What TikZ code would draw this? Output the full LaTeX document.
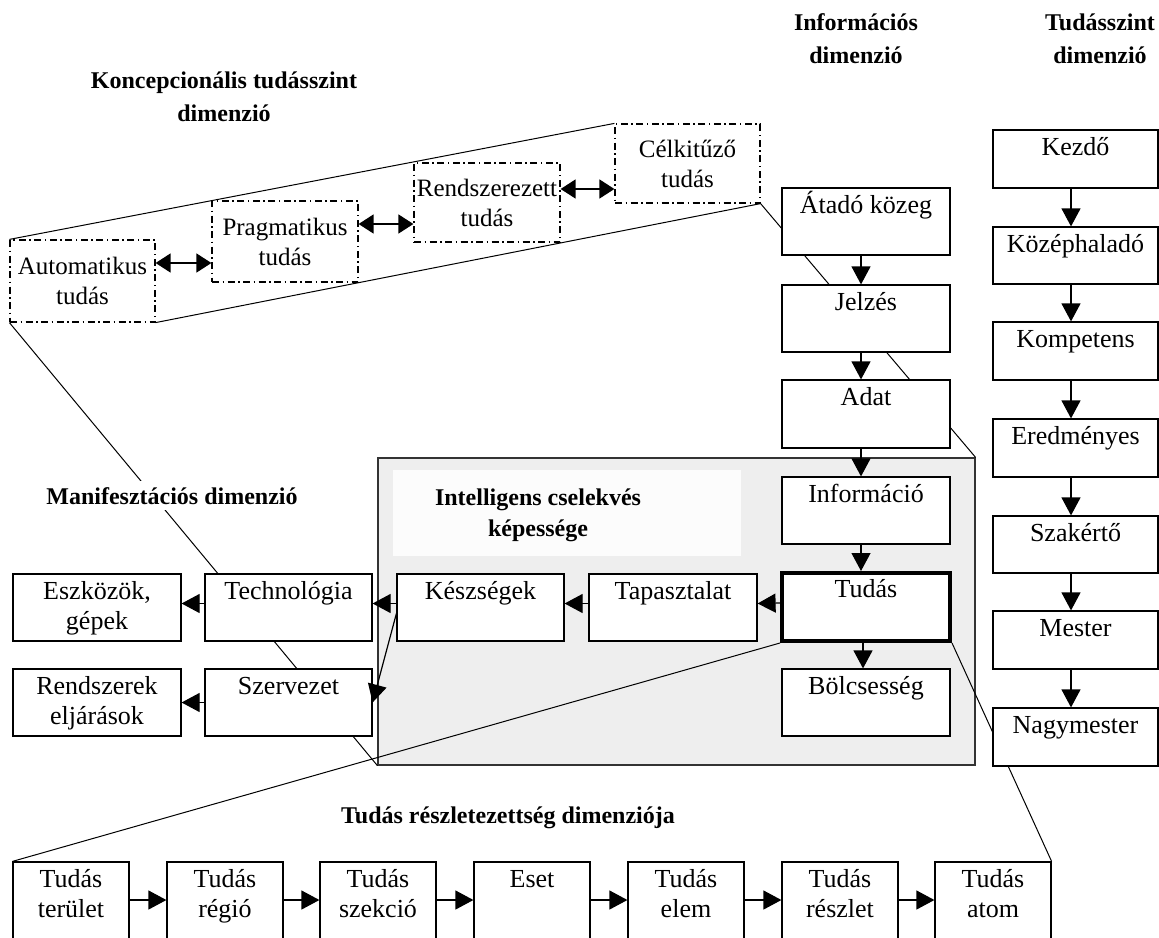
\documentclass[tikz,border=0pt]{standalone}
\usepackage{fontspec}
\setmainfont{Liberation Serif}
\usetikzlibrary{arrows.meta}
\pgfdeclarelayer{bg}
\pgfsetlayers{bg,main}
\tikzset{
  box/.style={draw, line width=1.2pt, fill=white, inner sep=0pt},
  btext/.style={font=\fontsize{26}{30}\selectfont, inner sep=0pt, anchor=base},
  ddbox/.style={draw, line width=1.2pt, fill=white, inner sep=0pt,
    dash pattern=on 7pt off 3.5pt on 1.5pt off 3.5pt, align=center,
    font=\fontsize{25}{30}\selectfont},
  arr/.style={-{Triangle[length=18pt,width=19pt]}, line width=1.2pt},
  darr/.style={{Triangle[length=15pt,width=19pt]}-{Triangle[length=15pt,width=19pt]}, line width=1.4pt},
  ttl/.style={font=\bfseries\fontsize{24}{33}\selectfont, inner sep=0pt, anchor=base},
  persp/.style={line width=1pt},
}
\newcommand\bxnode[7][]{%
  \node[box,#1,minimum width={(#5-#3)*1pt},minimum height={(#6-#4)*1pt}] (#2) at ({(#3+#5)/2},{(#4+#6)/2}) {};
  \node[btext] (#2t) at ([yshift=-26pt]#2.north) {\begin{tabular}[t]{@{}c@{}}#7\end{tabular}};}
\begin{document}
\begin{tikzpicture}[x=1pt,y=-1pt]
\useasboundingbox (0,0) rectangle (1159,937);
\clip (0,0) rectangle (1159,937);
% conceptual dimension (dash-dot boxes)
\node[ddbox, minimum width=145pt, minimum height=82pt] (A) at (82.5,281) {Automatikus\\tudás};
\node[ddbox, minimum width=146pt, minimum height=81pt] (P) at (285,241.5) {Pragmatikus\\tudás};
\node[ddbox, minimum width=146pt, minimum height=79pt] (R) at (487,202.5) {Rendszerezett\\tudás};
\node[ddbox, minimum width=145pt, minimum height=79pt] (C) at (687.5,163.5) {Célkitűző\\tudás};
% information dimension
\bxnode{atado}{782}{188}{950}{255}{Átadó közeg}
\bxnode{jelzes}{782}{285}{950}{352}{Jelzés}
\bxnode{adat}{782}{380}{950}{448}{Adat}
\bxnode{inform}{782}{477}{950}{544}{Információ}
\bxnode[line width=4pt]{tudas}{782}{573}{950}{641}{Tudás}
\bxnode{bolcs}{782}{669}{950}{736}{Bölcsesség}
% manifestation
\bxnode{tapasz}{589}{574}{757}{641}{Tapasztalat}
\bxnode{kesz}{397}{574}{564}{641}{Készségek}
\bxnode{techn}{205}{574}{372}{641}{Technológia}
\bxnode{eszk}{13}{574}{181}{641}{Eszközök,\\gépek}
\bxnode{szerv}{205}{669}{372}{736}{Szervezet}
\bxnode{rendsz}{13}{669}{181}{736}{Rendszerek\\eljárások}
% knowledge level dimension
\bxnode{kezdo}{993}{130}{1158}{188}{Kezdő}
\bxnode{kozep}{993}{227}{1158}{284}{Középhaladó}
\bxnode{kompet}{993}{322}{1158}{380}{Kompetens}
\bxnode{eredm}{993}{419}{1158}{477}{Eredményes}
\bxnode{szak}{993}{516}{1158}{573}{Szakértő}
\bxnode{mester}{993}{611}{1158}{669}{Mester}
\bxnode{nagym}{993}{708}{1158}{766}{Nagymester}
% detail dimension
\bxnode{b1}{13}{862}{129}{962}{Tudás\\terület}
\bxnode{b2}{167}{862}{283}{962}{Tudás\\régió}
\bxnode{b3}{320}{862}{436}{962}{Tudás\\szekció}
\bxnode{b4}{474}{862}{590}{962}{Eset}
\bxnode{b5}{628}{862}{744}{962}{Tudás\\elem}
\bxnode{b6}{782}{862}{898}{962}{Tudás\\részlet}
\bxnode{b7}{935}{862}{1051}{962}{Tudás\\atom}
% background: shaded region and perspective lines
\begin{pgfonlayer}{bg}
\node[draw=black!80, line width=1.2pt, fill=gray!13, minimum width=597pt, minimum height=307pt, inner sep=0pt] (gray) at (676.5,611.5) {};
\node[fill=gray!2, minimum width=348pt, minimum height=86pt, inner sep=0pt] (white) at (567,513) {};
\draw[persp] (A.north west) -- (C.north west);
\draw[persp] (A.south east) -- (C.south east);
\draw[persp] (C.south east) -- (gray.north east);
\draw[persp] (A.south west) -- (gray.south west);
\draw[persp] (tudas.south west) -- (b1.north west);
\draw[persp] (tudas.south east) -- (b7.north east);
\end{pgfonlayer}
% titles
\node[ttl] (koncT) at (224,88) {\begin{tabular}[t]{@{}c@{}}Koncepcionális tudásszint\\dimenzió\end{tabular}};
\node[ttl] (infoT) at (856,30) {\begin{tabular}[t]{@{}c@{}}Információs\\dimenzió\end{tabular}};
\node[ttl] (tszT) at (1100,30) {\begin{tabular}[t]{@{}c@{}}Tudásszint\\dimenzió\end{tabular}};
\node[ttl, fill=white, inner sep=6pt] (manifT) at (172,504) {Manifesztációs dimenzió};
\node[ttl, font=\bfseries\fontsize{24}{31}\selectfont] (intT) at (538,505) {\begin{tabular}[t]{@{}c@{}}Intelligens cselekvés\\képessége\end{tabular}};
\node[ttl] (reszT) at (508,823) {Tudás részletezettség dimenziója};
% double arrows
\draw[darr] ([yshift=18pt]A.east) -- ([yshift=18pt]A.east -| P.west);
\draw[darr] ([yshift=17.5pt]P.east) -- ([yshift=17.5pt]P.east -| R.west);
\draw[darr] ([yshift=13.5pt]R.east) -- ([yshift=13.5pt]R.east -| C.west);
% information arrows
\draw[arr] ([xshift=-5pt]atado.south) -- ([xshift=-5pt]jelzes.north);
\draw[arr] ([xshift=-5pt]jelzes.south) -- ([xshift=-5pt]adat.north);
\draw[arr] ([xshift=-5pt]adat.south) -- ([xshift=-5pt]inform.north);
\draw[arr] ([xshift=-5pt]inform.south) -- ([xshift=-5pt]tudas.north);
\draw[arr] ([xshift=-3pt]tudas.south) -- ([xshift=-3pt]bolcs.north);
% manifestation arrows
\draw[arr] ([yshift=4pt]tudas.west) -- ([yshift=4pt]tapasz.east);
\draw[arr] ([yshift=4pt]tapasz.west) -- ([yshift=4pt]kesz.east);
\draw[arr] ([yshift=4pt]kesz.west) -- ([yshift=4pt]techn.east);
\draw[arr] ([yshift=-6pt]kesz.west) -- (szerv.east);
\draw[arr] ([yshift=4pt]techn.west) -- ([yshift=4pt]eszk.east);
\draw[arr] (szerv.west) -- (rendsz.east);
% knowledge level arrows
\draw[arr] ([xshift=-4.5pt]kezdo.south) -- ([xshift=-4.5pt]kozep.north);
\draw[arr] ([xshift=-4.5pt]kozep.south) -- ([xshift=-4.5pt]kompet.north);
\draw[arr] ([xshift=-4.5pt]kompet.south) -- ([xshift=-4.5pt]eredm.north);
\draw[arr] ([xshift=-4.5pt]eredm.south) -- ([xshift=-4.5pt]szak.north);
\draw[arr] ([xshift=-4.5pt]szak.south) -- ([xshift=-4.5pt]mester.north);
\draw[arr] ([xshift=-4.5pt]mester.south) -- ([xshift=-4.5pt]nagym.north);
% detail arrows
\draw[arr] ([yshift=12pt]b1.east) -- ([yshift=12pt]b2.west);
\draw[arr] ([yshift=12pt]b2.east) -- ([yshift=12pt]b3.west);
\draw[arr] ([yshift=12pt]b3.east) -- ([yshift=12pt]b4.west);
\draw[arr] ([yshift=12pt]b4.east) -- ([yshift=12pt]b5.west);
\draw[arr] ([yshift=12pt]b5.east) -- ([yshift=12pt]b6.west);
\draw[arr] ([yshift=12pt]b6.east) -- ([yshift=12pt]b7.west);
\end{tikzpicture}
\end{document}
